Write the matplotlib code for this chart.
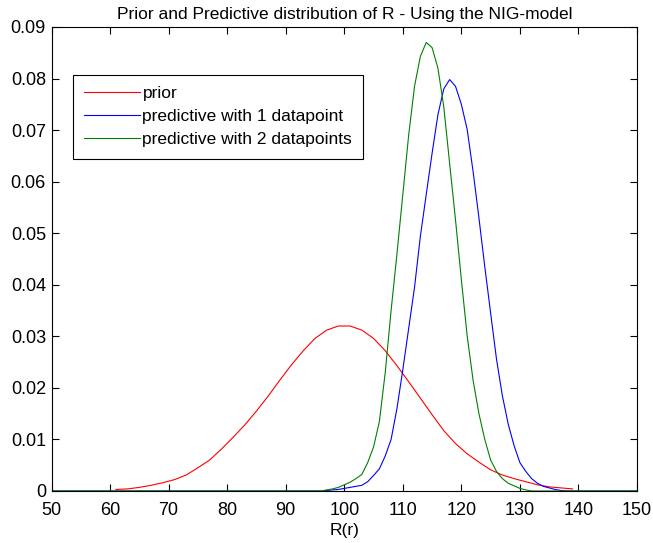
import matplotlib.pyplot as plt

plt.rcParams['font.family'] = ['Liberation Sans', 'DejaVu Sans']

# values
prior_x = [61, 63, 65, 67, 69, 71, 73, 75, 77, 79, 81, 83, 85, 87, 89, 91, 93, 95, 97, 99,
           101, 103, 105, 107, 109, 111, 113, 115, 117, 119, 121, 123, 125, 127, 129, 131,
           133, 135, 137, 139]
prior_y = [0.0003, 0.0004, 0.0007, 0.0011, 0.0016, 0.0022, 0.0031, 0.0045, 0.0060, 0.0081,
           0.0104, 0.0128, 0.0155, 0.0184, 0.0215, 0.0245, 0.0272, 0.0296, 0.0312, 0.0320,
           0.0320, 0.0312, 0.0296, 0.0272, 0.0243, 0.0212, 0.0180, 0.0148, 0.0117, 0.0092,
           0.0072, 0.0056, 0.0041, 0.0031, 0.0024, 0.0018, 0.0012, 0.0008, 0.0006, 0.0004]

pred1_x = [50, 96, 97, 98, 99, 100, 101, 102, 103, 104, 105, 106, 107, 108, 109, 110, 111,
           112, 113, 114, 115, 116, 117, 118, 119, 120, 121, 122, 123, 124, 125, 126, 127,
           128, 129, 130, 131, 132, 133, 134, 135, 136, 137, 138, 150]
pred1_y = [0.0, 0.0, 0.0001, 0.0002, 0.0003, 0.0005, 0.0007, 0.0009, 0.0011, 0.0018, 0.0030,
           0.0043, 0.0068, 0.0100, 0.0160, 0.0235, 0.0315, 0.0395, 0.0494, 0.0575, 0.0655,
           0.0730, 0.0780, 0.0798, 0.0785, 0.0750, 0.0701, 0.0620, 0.0530, 0.0435, 0.0345,
           0.0256, 0.0185, 0.0130, 0.0088, 0.0055, 0.0038, 0.0024, 0.0015, 0.0009, 0.0006,
           0.0003, 0.0001, 0.0, 0.0]

pred2_x = [50, 96, 97, 98, 99, 100, 101, 102, 103, 104, 105, 106, 107, 108, 109, 110, 111,
           112, 113, 114, 115, 116, 117, 118, 119, 120, 121, 122, 123, 124, 125, 126, 127,
           128, 129, 130, 131, 132, 150]
pred2_y = [0.0, 0.0, 0.0002, 0.0004, 0.0007, 0.0012, 0.0017, 0.0024, 0.0032, 0.0055, 0.0085,
           0.0135, 0.0230, 0.0350, 0.0460, 0.0575, 0.0690, 0.0785, 0.0843, 0.0870, 0.0860,
           0.0820, 0.0745, 0.0635, 0.0526, 0.0410, 0.0300, 0.0215, 0.0150, 0.0100, 0.0060,
           0.0038, 0.0024, 0.0015, 0.0010, 0.0005, 0.0002, 0.0, 0.0]

x_ticks = [50, 60, 70, 80, 90, 100, 110, 120, 130, 140, 150]
y_ticks = [0, 0.01, 0.02, 0.03, 0.04, 0.05, 0.06, 0.07, 0.08, 0.09]
y_labels = ['0', '0.01', '0.02', '0.03', '0.04', '0.05', '0.06', '0.07', '0.08', '0.09']

fig = plt.figure(figsize=(6.53, 5.43), dpi=100)
ax = fig.add_axes([0.0789, 0.0958, 0.8966, 0.8545])

ax.plot(prior_x, prior_y, color='#ff0000', linewidth=0.8, label='prior')
ax.plot(pred1_x, pred1_y, color='#0000ff', linewidth=0.8, label='predictive with 1 datapoint')
ax.plot(pred2_x, pred2_y, color='#008000', linewidth=0.8, label='predictive with 2 datapoints')

ax.set_xlim(50, 150)
ax.set_ylim(0, 0.09)
ax.set_xticks(x_ticks)
ax.set_xticklabels([str(t) for t in x_ticks])
ax.set_yticks(y_ticks)
ax.set_yticklabels(y_labels)
ax.tick_params(direction='in', length=5, width=0.8, top=True, right=True, labelsize=13)
ax.tick_params(axis='x', pad=8)
ax.tick_params(axis='y', pad=4)
for s in ax.spines.values():
    s.set_linewidth(0.8)

ax.set_title('Prior and Predictive distribution of R - Using the NIG-model', fontsize=12.5, pad=6)
ax.set_xlabel('R(r)', fontsize=12.5, labelpad=3)

leg = ax.legend(loc='upper left', bbox_to_anchor=(0.0367, 0.8966), fontsize=12.5,
                frameon=True, fancybox=False, edgecolor='black', framealpha=1,
                handlelength=3.2, handletextpad=0.15, labelspacing=0.45, borderpad=0.65,
                borderaxespad=0)
leg.get_frame().set_linewidth(0.8)

fig.savefig('out.png', dpi=100)
